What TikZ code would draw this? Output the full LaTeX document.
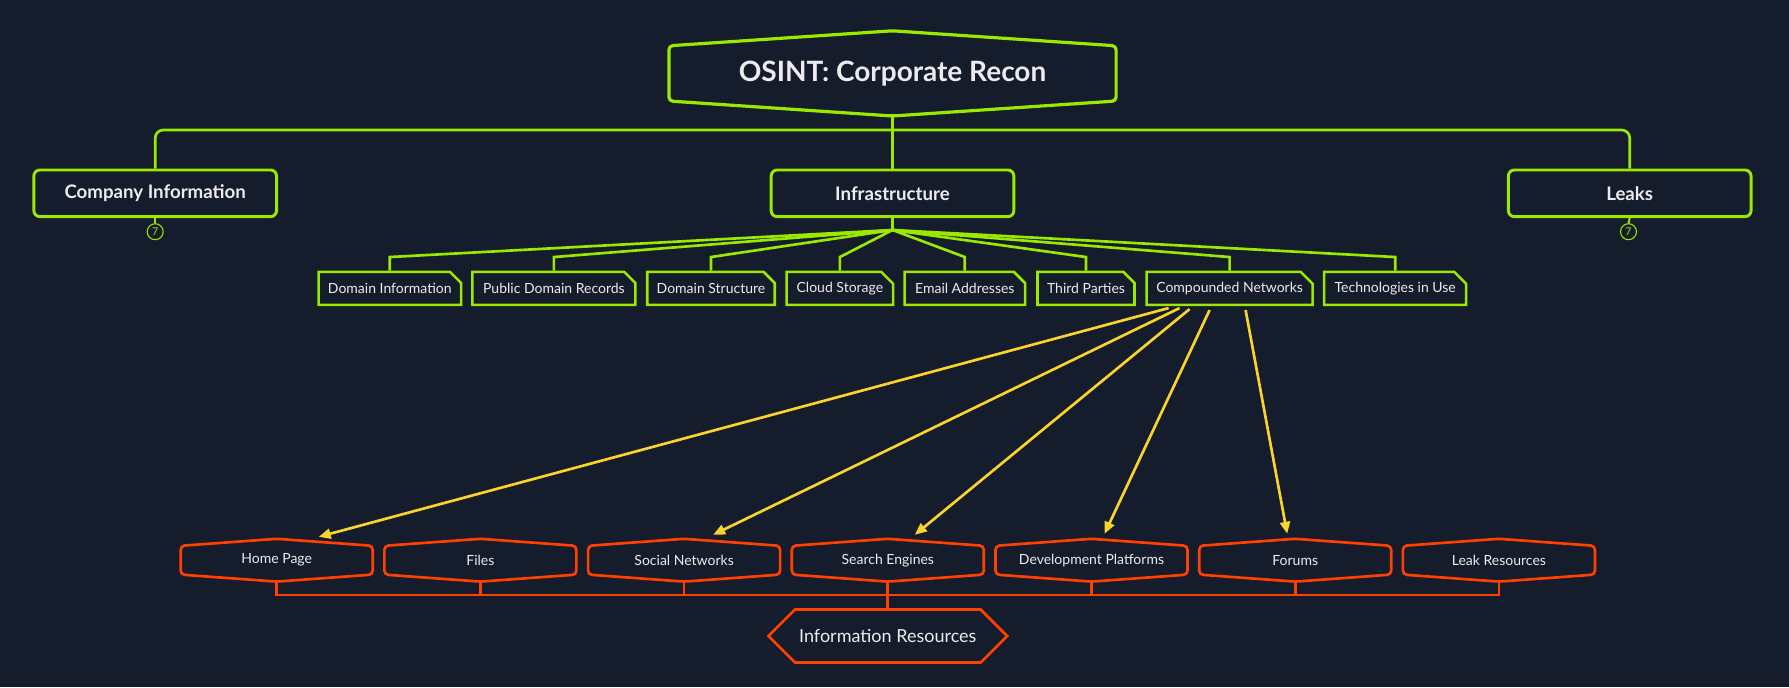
\documentclass[tikz,border=0pt]{standalone}
\usepackage{fontspec}
\setmainfont{Lato}
\usetikzlibrary{calc}
\usetikzlibrary{shapes.misc}
\usetikzlibrary{shapes.symbols}
\usetikzlibrary{arrows.meta}
\definecolor{bgnavy}{RGB}{21,28,43}
\definecolor{limegreen}{RGB}{155,232,0}
\definecolor{redorange}{RGB}{255,64,0}
\definecolor{sunyellow}{RGB}{250,212,42}
\definecolor{paletext}{RGB}{236,236,238}

\begin{document}
\begin{tikzpicture}[x=0.75pt,y=0.75pt,yscale=-1,xscale=1,
  every node/.style={text=paletext},
  rootbox/.style={minimum width=335pt, minimum height=41pt, inner sep=0pt, font=\fontsize{21}{25}\selectfont\bfseries},
  topicbox/.style={draw=limegreen, line width=2.2pt, rounded corners=4.5pt, minimum width=182pt, minimum height=35pt, inner sep=0pt, font=\fontsize{14}{17}\selectfont\bfseries},
  leafbox/.style={draw=limegreen, line width=1.9pt, chamfered rectangle, chamfered rectangle corners=north east, chamfered rectangle sep=4.5pt, minimum width=#1*0.75pt, minimum height=24.75pt, inner sep=0pt, font=\fontsize{10.5}{13}\selectfont},
  resbox/.style={minimum width=143.6pt, minimum height=21.2pt, inner sep=0pt, font=\fontsize{10.5}{13}\selectfont},
  sourcebox/.style={draw=redorange, line width=2pt, signal, signal to=west and east, signal pointer angle=90, minimum width=179pt, minimum height=39.75pt, inner sep=0pt, font=\fontsize{13.5}{16}\selectfont},
  countmark/.style={circle, draw=limegreen, line width=0.8pt, minimum size=12pt, inner sep=0pt, text=limegreen, font=\fontsize{8}{9}\selectfont},
  greenline/.style={limegreen, line width=2pt},
  redline/.style={redorange, line width=2pt},
  linkline/.style={sunyellow, line width=2pt, -{Triangle[length=9pt,width=7.5pt]}}
]
\useasboundingbox (0,0) rectangle (1789,687);
\fill[bgnavy] (0,0) rectangle (1789,687);

% Text Node
\node[rootbox] (root) at (892.5,73.4) {OSINT: Corporate Recon};
\draw[greenline, line width=2.4pt, rounded corners=3pt] (root.north west) -- ($(root.north)+(0,-15)$) -- (root.north east) -- (root.south east) -- ($(root.south)+(0,15)$) -- (root.south west) -- cycle;

% Text Node
\node[topicbox] (ci) at (155.2,193.3) {Company Information};
\node[topicbox] (inf) at (892.5,193.3) {Infrastructure};
\node[topicbox] (lk) at (1629.7,193.3) {Leaks};
\node[countmark] (cicount) at (155.2,231.7) {7};
\node[countmark] (lkcount) at (1628.5,231.7) {7};

% Text Node
\node[leafbox=142.5] (di) at (389.8,288.3) {Domain Information};
\node[leafbox=163] (pdr) at (553.9,288.3) {Public Domain Records};
\node[leafbox=127.5] (ds) at (711,288.3) {Domain Structure};
\node[leafbox=106.5] (cs) at (839.9,288.3) {Cloud Storage};
\node[leafbox=120.5] (ea) at (964.8,288.3) {Email Addresses};
\node[leafbox=97] (tp) at (1086,288.3) {Third Parties};
\node[leafbox=166] (cn) at (1229.6,288.3) {Compounded Networks};
\node[leafbox=142] (tu) at (1395.2,288.3) {Technologies in Use};

% Text Node
\node[resbox] (hp) at (276.7,560.2) {Home Page};
\node[resbox] (fi) at (480.4,560.2) {Files};
\node[resbox] (sn) at (684.1,560.2) {Social Networks};
\node[resbox] (se) at (887.8,560.2) {Search Engines};
\node[resbox] (dp) at (1091.5,560.2) {Development Platforms};
\node[resbox] (fo) at (1295.2,560.2) {Forums};
\node[resbox] (lr) at (1498.9,560.2) {Leak Resources};
\foreach \n in {hp,fi,sn,se,dp,fo,lr}
  \draw[redline, rounded corners=3pt] (\n.north west) -- ($(\n.north)+(0,-7)$) -- (\n.north east) -- (\n.south east) -- ($(\n.south)+(0,7)$) -- (\n.south west) -- cycle;

\node[sourcebox] (ir) at (887.8,636) {Information Resources};

%Straight Lines
\coordinate (rootbus) at (892.5,130);
\draw[greenline, rounded corners=6pt] (ci.north) -- (ci.north |- rootbus) -- (lk.north |- rootbus) -- (lk.north);
\draw[greenline] ($(root.south)+(0,15)$) -- (inf.north);
\draw[greenline, line width=1.5pt] (ci.south) -- (cicount.north);
\draw[greenline, line width=1.5pt] (lk.south) -- (lkcount.north);

%Straight Lines
\coordinate (infhub) at (892.5,230);
\draw[greenline] (inf.south) -- (infhub);
\foreach \n in {di,pdr,ds,cs,ea,tp,cn,tu}
  \draw[greenline] (infhub) -- ($(\n.north)+(0,-13.5)$) -- (\n.north);

%Straight Lines
\coordinate (redbus) at (887.8,595);
\draw[redline] ($(hp.south)+(0,7)$) -- (hp.south |- redbus) -- (lr.south |- redbus) -- ($(lr.south)+(0,7)$);
\foreach \n in {fi,sn,se,dp,fo}
  \draw[redline] ($(\n.south)+(0,7)$) -- (\n.south |- redbus);
\draw[redline] (redbus) -- (ir.north);

%Straight Lines
\draw[linkline] ($(cn.south)+(-61,2)$) -- ($(hp.north)+(42,-9)$);
\draw[linkline] ($(cn.south)+(-50,2)$) -- ($(sn.north)+(29,-11)$);
\draw[linkline] ($(cn.south)+(-40,3)$) -- ($(se.north)+(27,-11)$);
\draw[linkline] ($(cn.south)+(-20,4)$) -- ($(dp.north)+(13,-12)$);
\draw[linkline] ($(cn.south)+(16,4)$) -- ($(fo.north)+(-8,-12)$);

\end{tikzpicture}
\end{document}
